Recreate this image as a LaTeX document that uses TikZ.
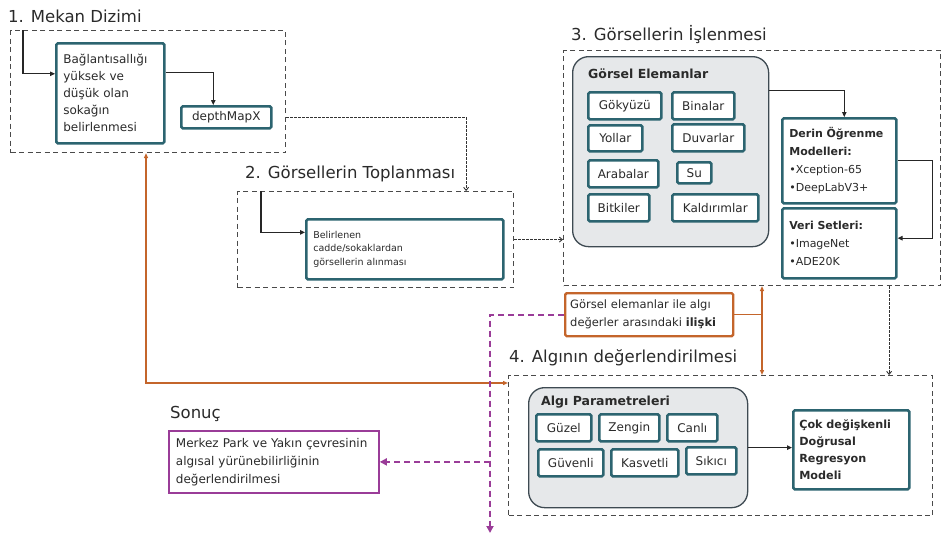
\documentclass[tikz,border=0pt]{standalone}
\usepackage{fontspec}
\setmainfont{DejaVu Sans}
\usetikzlibrary{arrows.meta,calc}
\definecolor{frameline}{HTML}{4A4A4A}
\definecolor{tealdark}{HTML}{2C6470}
\definecolor{panelfill}{HTML}{E6E8EA}
\definecolor{panelline}{HTML}{3E4A52}
\definecolor{relorange}{HTML}{C4652B}
\definecolor{respurple}{HTML}{9A3C98}
\definecolor{inktext}{HTML}{2A2A2A}
\newcommand\setfs[2]{\fontsize{#1}{#2}\selectfont}

\begin{document}
\begin{tikzpicture}[x=1pt,y=-1pt,
  frame/.style={draw=frameline, line width=1.1pt, dash pattern=on 5pt off 3.5pt, anchor=north west, inner sep=0pt},
  title/.style={anchor=base west, inner sep=0pt, text=inktext, font=\setfs{16.5}{20}},
  tbox/.style={draw=tealdark, line width=2.6pt, rounded corners=1.5pt, fill=white, anchor=north west, inner sep=0pt, text=inktext},
  txtbox/.style={tbox, align=left, inner xsep=7pt},
  elem/.style={tbox, align=center, font=\setfs{12}{14}},
  panel/.style={draw=panelline, line width=1.3pt, fill=panelfill, rounded corners=16pt, anchor=north west, inner sep=0pt},
  head/.style={anchor=base west, inner sep=0pt, text=inktext, font=\bfseries\setfs{12.5}{15}},
  arr/.style={draw=black!85, line width=1.1pt, -{Triangle[length=5pt,width=4.5pt]}},
  darr/.style={draw=black!80, line width=0.9pt, dash pattern=on 2.5pt off 1.5pt, -{Straight Barb[length=3pt,width=5pt]}},
  oarr/.style={draw=relorange, line width=1.4pt, {Triangle[length=5pt,width=4pt]}-{Triangle[length=5pt,width=4pt]}},
  oline/.style={draw=relorange, line width=1.4pt},
  parr/.style={draw=respurple, line width=2pt, dash pattern=on 6pt off 4pt, -{Triangle[length=7pt,width=7pt]}},
]
\useasboundingbox (0,0) rectangle (951,536);

% section frames and titles
\node[frame, minimum width=275pt, minimum height=122pt] (f1) at (10,30) {};
\node[frame, minimum width=276pt, minimum height=96pt] (f2) at (237,191) {};
\node[frame, minimum width=377pt, minimum height=235pt] (f3) at (563,50) {};
\node[frame, minimum width=424pt, minimum height=140pt] (f4) at (508,375) {};
\node[title] (t1) at (8,22) {1. Mekan Dizimi};
\node[title] (t2) at (245,178) {2. Görsellerin Toplanması};
\node[title] (t3) at (571,40) {3. Görsellerin İşlenmesi};
\node[title] (t4) at (509,362) {4. Algının değerlendirilmesi};
\node[title] (t5) at (170,418) {Sonuç};

% 1. spatial configuration
\node[txtbox, minimum width=108pt, minimum height=100pt, text width=94pt, font=\setfs{12}{17}] (b1) at (55,42)
  {Bağlantısallığı\\yüksek ve\\düşük olan\\sokağın\\belirlenmesi};
\node[elem, minimum width=90pt, minimum height=22pt] (dmx) at (180,105) {depthMapX};

% 2. image collection
\node[txtbox, minimum width=197pt, minimum height=60pt, text width=183pt, font=\setfs{9.5}{13.5}] (b2) at (305,218)
  {Belirlenen\\cadde/sokaklardan\\görsellerin alınması};

% 3. image processing
\node[panel, minimum width=196pt, minimum height=190pt] (ge) at (572,56) {};
\node[head] (geh) at (588,78) {Görsel Elemanlar};
\node[elem, minimum width=73pt, minimum height=27pt] (gok) at (587,91) {Gökyüzü};
\node[elem, minimum width=62pt, minimum height=27pt] (bin) at (671,91) {Binalar};
\node[elem, minimum width=54pt, minimum height=26pt] (yol) at (587,124) {Yollar};
\node[elem, minimum width=72pt, minimum height=27pt] (duv) at (671,123) {Duvarlar};
\node[elem, minimum width=70pt, minimum height=27pt] (ara) at (587,159) {Arabalar};
\node[elem, minimum width=34pt, minimum height=21pt] (su) at (676,161) {Su};
\node[elem, minimum width=61pt, minimum height=27pt] (bit) at (587,193) {Bitkiler};
\node[elem, minimum width=86pt, minimum height=27pt] (kal) at (671,193) {Kaldırımlar};

\node[txtbox, minimum width=114pt, minimum height=85pt, text width=100pt, font=\setfs{11}{18}] (derin) at (781,117)
  {\textbf{Derin Öğrenme}\\\textbf{Modelleri:}\\•Xception-65\\•DeepLabV3+};
\node[txtbox, minimum width=114pt, minimum height=70pt, text width=100pt, font=\setfs{11}{18}] (veri) at (781,207)
  {\textbf{Veri Setleri:}\\•ImageNet\\•ADE20K};

% relation and result
\node[draw=relorange, line width=2.4pt, rounded corners=1.5pt, fill=white, anchor=north west, inner sep=0pt, inner xsep=5pt,
  minimum width=168pt, minimum height=43pt, text width=158pt, align=left, text=inktext, font=\setfs{11.5}{18}] (rel) at (564,292)
  {Görsel elemanlar ile algı\\değerler arasındaki \textbf{ilişki}};
\node[draw=respurple, line width=1.8pt, fill=white, anchor=north west, inner sep=0pt, inner xsep=7pt,
  minimum width=210pt, minimum height=62pt, text width=196pt, align=left, text=inktext, font=\setfs{12}{18}] (res) at (168,430)
  {Merkez Park ve Yakın çevresinin\\algısal yürünebilirliğinin\\değerlendirilmesi};

% 4. perception assessment
\node[panel, minimum width=219pt, minimum height=120pt] (ap) at (528,387) {};
\node[head] (aph) at (541,405) {Algı Parametreleri};
\node[elem, minimum width=55pt, minimum height=27pt] (guz) at (535,413) {Güzel};
\node[elem, minimum width=60pt, minimum height=27pt] (zen) at (598,413) {Zengin};
\node[elem, minimum width=50pt, minimum height=27pt] (can) at (666,413) {Canlı};
\node[elem, minimum width=65pt, minimum height=27pt] (guv) at (537,448) {Güvenli};
\node[elem, minimum width=67pt, minimum height=27pt] (kas) at (610,448) {Kasvetli};
\node[elem, minimum width=50pt, minimum height=27pt] (sik) at (685,446) {Sıkıcı};
\node[txtbox, minimum width=116pt, minimum height=79pt, text width=104pt, inner xsep=6pt, font=\bfseries\setfs{11.2}{17}] (model) at (792,409)
  {Çok değişkenli\\Doğrusal\\Regresyon\\Modeli};

% connectors
\draw[arr] ([xshift=13pt]f1.north west) |- ($(b1.north west)!0.31!(b1.south west)$);
\draw[arr] ($(b1.north east)!0.3!(b1.south east)$) -| ([xshift=-13pt]dmx.north);
\draw[darr] (f1.east |- dmx.east) -| ([xshift=-48pt]f2.north east);
\draw[arr] ([xshift=24pt]f2.north west) |- ($(b2.north west)!0.23!(b2.south west)$);
\draw[darr] (f2.east) -- (f2.east -| f3.west);
\draw[arr] ($(ge.north east)!0.18!(ge.south east)$) -| ([xshift=5pt]derin.north);
\draw[arr] (derin.east) -- ++(35,0) |- ($(veri.north east)!0.43!(veri.south east)$);
\coordinate (d34) at ([xshift=-52pt]f3.south east);
\draw[darr] (d34) -- (d34 |- f4.north);
\draw[arr] (ap.east) -- (ap.east -| model.west);

% orange links
\coordinate (ov) at (762,300);
\draw[oarr] (ov |- f3.south) -- (ov |- f4.north);
\draw[oline] (rel.east) -- (rel.east -| ov);
\coordinate (oc) at (146,383);
\draw[oarr] (oc |- f1.south) -- (oc) -- (oc -| f4.west);

% purple links
\coordinate (pc) at (490,308);
\coordinate (pe) at (490,533);
\draw[parr] (rel.west) -- (rel.west -| pc) -- (pe);
\draw[parr] (pc |- res.east) -- (res.east);
\end{tikzpicture}
\end{document}
